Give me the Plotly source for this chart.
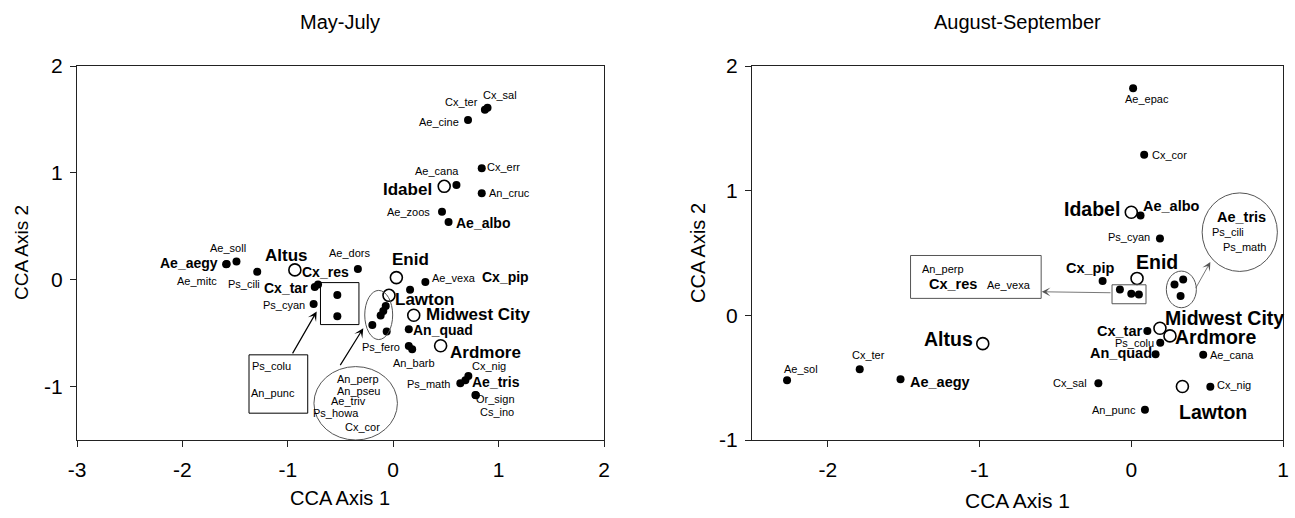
import plotly.graph_objects as go

# ---------------- DATA: May-July (left panel) ----------------
L_sp_names = ["Cx_ter", "Cx_sal", "Ae_cine", "Cx_err", "Ae_cana", "An_cruc", "Ae_zoos", "Ae_albo",
              "Ae_aegy", "Ae_soll", "Ae_mitc", "Ps_cili", "Ae_dors", "Cx_res", "Cx_tar", "Ps_cyan",
              "Ps_colu", "An_punc", "Ae_vexa", "Cx_pip", "An_perp", "An_pseu", "Ae_triv", "Ps_howa",
              "Cx_cor", "An_quad", "Ps_fero", "An_barb", "Cx_nig", "Ae_tris", "Ps_math", "Or_sign", "Cs_ino"]
L_sp_x = [0.87, 0.895, 0.71, 0.84, 0.60, 0.84, 0.463, 0.525,
          -1.58, -1.487, -1.585, -1.29, -0.335, -0.713, -0.744, -0.755,
          -0.53, -0.53, 0.305, 0.16, -0.071, -0.094, -0.119, -0.198,
          -0.062, 0.148, 0.148, 0.18, 0.713, 0.685, 0.637, 0.78, 0.785]
L_sp_y = [1.59, 1.61, 1.495, 1.043, 0.887, 0.809, 0.637, 0.54,
          0.148, 0.171, 0.145, 0.074, 0.10, -0.045, -0.068, -0.227,
          -0.144, -0.342, -0.022, -0.093, -0.245, -0.292, -0.336, -0.423,
          -0.485, -0.463, -0.62, -0.65, -0.90, -0.94, -0.968, -1.078, -1.082]
L_site_names = ["Idabel", "Altus", "Enid", "Lawton", "Midwest City", "Ardmore"]
L_site_x = [0.484, -0.933, 0.03, -0.04, 0.195, 0.45]
L_site_y = [0.874, 0.092, 0.02, -0.146, -0.333, -0.618]

# ---------------- DATA: August-September (right panel) ----------------
R_sp_names = ["Ae_epac", "Cx_cor", "Ae_albo", "Ps_cyan", "Cx_pip", "An_perp", "Cx_res", "Ae_vexa",
              "Ae_tris", "Ps_cili", "Ps_math", "Cx_tar", "Ps_colu", "An_quad", "Ae_cana", "Cx_ter",
              "Ae_sol", "Ae_aegy", "Cx_sal", "Cx_nig", "An_punc"]
R_sp_x = [0.012, 0.085, 0.061, 0.189, -0.189, -0.075, 0.0, 0.05,
          0.285, 0.342, 0.325, 0.106, 0.191, 0.16, 0.474, -1.79,
          -2.269, -1.521, -0.217, 0.521, 0.09]
R_sp_y = [1.821, 1.288, 0.80, 0.616, 0.275, 0.208, 0.173, 0.168,
          0.248, 0.288, 0.155, -0.125, -0.219, -0.312, -0.317, -0.432,
          -0.52, -0.512, -0.544, -0.573, -0.757]
R_site_names = ["Idabel", "Enid", "Midwest City", "Ardmore", "Altus", "Lawton"]
R_site_x = [0.0, 0.038, 0.189, 0.255, -0.979, 0.337]
R_site_y = [0.827, 0.296, -0.104, -0.165, -0.227, -0.571]

# tick labels
L_xticks = [-3, -2, -1, 0, 1, 2]
L_yticks = [-1, 0, 1, 2]
R_xticks = [-2, -1, 0, 1]
R_yticks = [-1, 0, 1, 2]

# ---------------- label placement (annotation layout) ----------------
L_labels = [
    ("Cx_ter", 0.646, 1.66, "s"), ("Cx_sal", 1.013, 1.729, "s"), ("Ae_cine", 0.435, 1.479, "s"),
    ("Ae_cana", 0.412, 1.017, "s"), ("Cx_err", 1.045, 1.058, "s"), ("Idabel", 0.136, 0.846, "L"),
    ("An_cruc", 1.10, 0.808, "s"), ("Ae_zoos", 0.149, 0.637, "s"), ("Ae_albo", 0.851, 0.528, "M"),
    ("Ae_soll", -1.568, 0.294, "s"), ("Ae_aegy", -1.942, 0.153, "M"), ("Ae_mitc", -1.86, -0.009, "s"),
    ("Ps_cili", -1.416, -0.04, "s"), ("Altus", -1.016, 0.231, "L"), ("Ae_dors", -0.416, 0.253, "s"),
    ("Cx_res", -0.643, 0.069, "M"), ("Cx_tar", -1.013, -0.08, "M"), ("Ps_cyan", -1.032, -0.24, "s"),
    ("Enid", 0.162, 0.19, "L"), ("Ae_vexa", 0.581, 0.02, "s"), ("Cx_pip", 1.062, 0.022, "M"),
    ("Lawton", 0.299, -0.183, "L"), ("Midwest City", 0.802, -0.33, "L"), ("An_quad", 0.468, -0.475, "M"),
    ("Ps_fero", -0.117, -0.626, "s"), ("An_barb", 0.198, -0.776, "s"), ("Ardmore", 0.88, -0.679, "L"),
    ("Cx_nig", 0.906, -0.807, "s"), ("Ps_math", 0.338, -0.976, "s"), ("Ae_tris", 0.971, -0.954, "M"),
    ("Or_sign", 0.971, -1.116, "s"), ("Cs_ino", 0.987, -1.234, "s"),
    ("Ps_colu", -1.153, -0.803, "s"), ("An_punc", -1.137, -1.062, "s"),
    ("An_perp", -0.334, -0.932, "s"), ("An_pseu", -0.334, -1.041, "s"), ("Ae_triv", -0.425, -1.132, "s"),
    ("Ps_howa", -0.545, -1.25, "s"), ("Cx_cor", -0.295, -1.381, "s"),
]
R_labels = [
    ("Ae_epac", 0.106, 1.736, "s"), ("Cx_cor", 0.25, 1.288, "s"), ("Idabel", -0.257, 0.856, "L"),
    ("Ae_albo", 0.267, 0.88, "M"), ("Ps_cyan", -0.012, 0.629, "s"), ("Enid", 0.172, 0.429, "L"),
    ("Cx_pip", -0.271, 0.381, "M"), ("Ae_tris", 0.726, 0.789, "M"), ("Ps_cili", 0.637, 0.667, "s"),
    ("Ps_math", 0.743, 0.549, "s"), ("An_perp", -1.243, 0.373, "s"), ("Cx_res", -1.177, 0.253, "M"),
    ("Ae_vexa", -0.807, 0.243, "s"), ("Midwest City", 0.616, -0.022, "L"), ("Ardmore", 0.554, -0.176, "L"),
    ("Cx_tar", -0.075, -0.125, "M"), ("Ps_colu", 0.019, -0.224, "s"), ("An_quad", -0.071, -0.304, "M"),
    ("Ae_cana", 0.667, -0.32, "s"), ("Altus", -1.208, -0.192, "L"), ("Cx_ter", -1.733, -0.32, "s"),
    ("Ae_sol", -2.175, -0.432, "s"), ("Ae_aegy", -1.262, -0.531, "M"), ("Cx_sal", -0.406, -0.544, "s"),
    ("Cx_nig", 0.679, -0.557, "s"), ("An_punc", -0.111, -0.757, "s"), ("Lawton", 0.538, -0.779, "L"),
]

FONT = "Liberation Sans, Arial, sans-serif"
L_sizes = {"s": 11, "M": 14, "L": 17}
R_sizes = {"s": 11, "M": 14.5, "L": 19.5}

fig = go.Figure()

def add_panel(sx, sy, names, stx, sty, snames, xa, ya):
    fig.add_trace(go.Scatter(x=sx, y=sy, mode="markers", text=names, hoverinfo="text",
                             marker=dict(size=8, color="black"), xaxis=xa, yaxis=ya, showlegend=False))
    fig.add_trace(go.Scatter(x=stx, y=sty, mode="markers", text=snames, hoverinfo="text",
                             marker=dict(size=12, color="white", line=dict(color="black", width=1.6)),
                             xaxis=xa, yaxis=ya, showlegend=False))

add_panel(L_sp_x, L_sp_y, L_sp_names, L_site_x, L_site_y, L_site_names, "x", "y")
add_panel(R_sp_x, R_sp_y, R_sp_names, R_site_x, R_site_y, R_site_names, "x2", "y2")

ann = []
for t, x, y, k in L_labels:
    ann.append(dict(text=f"<b>{t}</b>" if k != "s" else t, x=x, y=y, xref="x", yref="y",
                    xanchor="center", yanchor="middle",
                    showarrow=False, font=dict(family=FONT, size=L_sizes[k], color="black")))
for t, x, y, k in R_labels:
    ann.append(dict(text=f"<b>{t}</b>" if k != "s" else t, x=x, y=y, xref="x2", yref="y2",
                    xanchor="center", yanchor="middle",
                    showarrow=False, font=dict(family=FONT, size=R_sizes[k], color="black")))

# arrows
ann += [
    dict(x=-0.726, y=-0.298, ax=-0.963, ay=-0.703, xref="x", yref="y", axref="x", ayref="y",
         showarrow=True, arrowhead=3, arrowsize=1.3, arrowwidth=1.2, arrowcolor="black", text=""),
    dict(x=-0.284, y=-0.454, ax=-0.511, ay=-0.813, xref="x", yref="y", axref="x", ayref="y",
         showarrow=True, arrowhead=3, arrowsize=1.3, arrowwidth=1.2, arrowcolor="black", text=""),
    dict(x=-0.59, y=0.189, ax=-0.127, ay=0.181, xref="x2", yref="y2", axref="x2", ayref="y2",
         showarrow=True, arrowhead=3, arrowsize=1.8, arrowwidth=0.8, arrowcolor="#555", text=""),
    dict(x=0.521, y=0.427, ax=0.42, ay=0.208, xref="x2", yref="y2", axref="x2", ayref="y2",
         showarrow=True, arrowhead=3, arrowsize=1.8, arrowwidth=0.8, arrowcolor="#555", text=""),
]

# titles and axis titles (paper coords, px-based)
W, H = 1295, 518
def px(xp): return xp / W
def py(yp): return 1 - yp / H
def pann(text, xp, yp, size, angle=0):
    return dict(text=text, x=px(xp), y=py(yp), xref="paper", yref="paper", showarrow=False,
                xanchor="center", yanchor="middle", textangle=angle,
                font=dict(family=FONT, size=size, color="black"))
ann += [
    pann("May-July", 340, 22, 20),
    pann("August-September", 1017, 22, 20),
    pann("CCA Axis 1", 340, 498, 20),
    pann("CCA Axis 1", 1017, 500, 21),
    pann("CCA Axis 2", 21, 253, 19, -90),
    pann("CCA Axis 2", 698, 253, 20, -90),
]

line_k = dict(color="black", width=1)
line_g = dict(color="#555", width=1)
shapes = [
    dict(type="rect", xref="x", yref="y", x0=-0.69, x1=-0.325, y0=-0.42, y1=-0.027, line=line_k),
    dict(type="rect", xref="x", yref="y", x0=-1.368, x1=-0.811, y0=-1.249, y1=-0.703, line=line_k),
    dict(type="circle", xref="x", yref="y", x0=-0.27, x1=-0.005, y0=-0.56, y1=-0.10, line=line_g),
    dict(type="circle", xref="x", yref="y", x0=-0.752, x1=0.04, y0=-1.50, y1=-0.813, line=line_g),
    dict(type="rect", xref="x2", yref="y2", x0=-0.127, x1=0.097, y0=0.093, y1=0.245, line=line_g),
    dict(type="rect", xref="x2", yref="y2", x0=-1.455, x1=-0.594, y0=0.136, y1=0.48, line=line_g),
    dict(type="circle", xref="x2", yref="y2", x0=0.231, x1=0.429, y0=0.061, y1=0.355, line=line_g),
    dict(type="circle", xref="x2", yref="y2", x0=0.467, x1=0.963, y0=0.352, y1=0.982, line=line_g),
]

ax_common = dict(showgrid=False, zeroline=False, showline=True, linecolor="#222", linewidth=1.2,
                 mirror=True, ticks="outside", ticklen=6, tickcolor="#222",
                 ticklabeloverflow="allow",
                 tickfont=dict(family=FONT, size=21, color="black"))
ydom = [py(440), py(66)]
fig.update_layout(
    width=W, height=H, margin=dict(l=0, r=0, t=0, b=0, autoexpand=False),
    paper_bgcolor="white", plot_bgcolor="white",
    xaxis=dict(domain=[px(77), px(604)], range=[-3, 2], tickvals=L_xticks, ticklabelstandoff=5,
               ticktext=[str(v) for v in L_xticks], anchor="y", **ax_common),
    yaxis=dict(domain=ydom, range=[-1.5, 2], tickvals=L_yticks, ticklabelstandoff=3,
               ticktext=[str(v) for v in L_yticks], anchor="x", **ax_common),
    xaxis2=dict(domain=[px(752), px(1283)], range=[-2.5, 1], tickvals=R_xticks, ticklabelstandoff=5,
                ticktext=[str(v) for v in R_xticks], anchor="y2", **ax_common),
    yaxis2=dict(domain=ydom, range=[-1, 2], tickvals=R_yticks, ticklabelstandoff=3,
                ticktext=[str(v) for v in R_yticks], anchor="x2", **ax_common),
    annotations=ann, shapes=shapes, showlegend=False,
)

# remove the browser's default 8px body margin so the figure sits at the page origin
fig.write_html("out.html", config={"displayModeBar": False},
               post_script="document.body.style.margin='0px';")
